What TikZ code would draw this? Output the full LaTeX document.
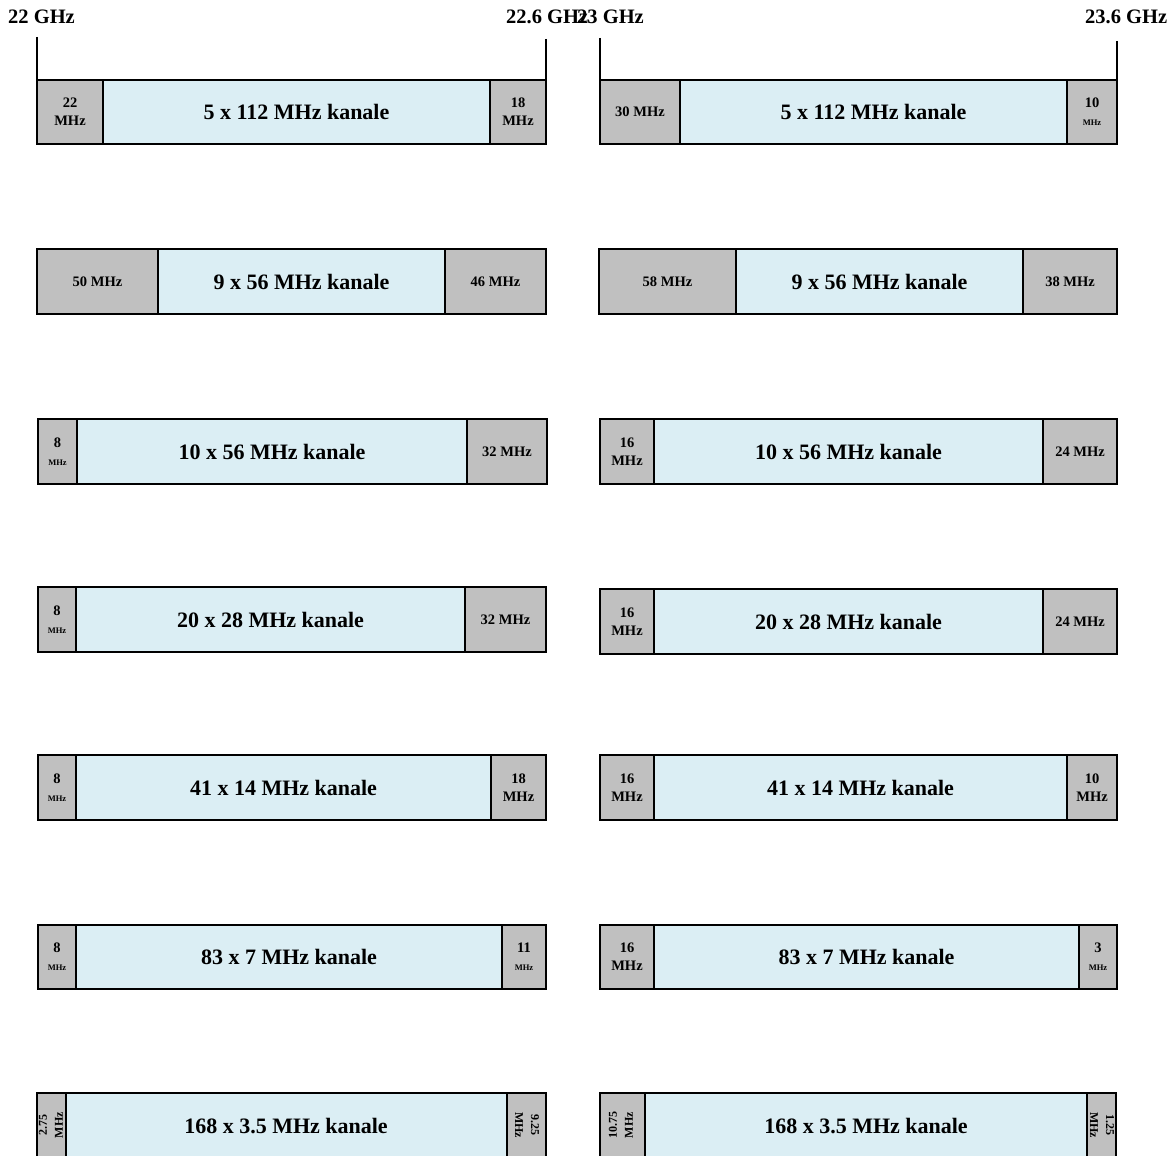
\documentclass[tikz,border=0pt]{standalone}
\usepackage{fontspec}
\setmainfont{Liberation Serif}
\definecolor{bandgray}{HTML}{C0C0C0}
\definecolor{chanblue}{HTML}{DBEEF4}
\newcommand\segnode[7]{%
  \node[#6, minimum width={(#3-#2)*1pt}, minimum height={(#5-#4)*1pt}] (#1) at ({(#2+#3)/2},{(#4+#5)/2}) {#7};}
\newcommand\smallmhz{{\fontsize{8.5}{9}\selectfont MHz}}
\begin{document}
\begin{tikzpicture}[x=1pt,y=-1pt,
  segbase/.style={draw=black, line width=1.5pt, inner sep=0pt, align=center},
  guard/.style={segbase, fill=bandgray, font=\bfseries\fontsize{14.5}{18}\selectfont},
  chan/.style={segbase, fill=chanblue, font=\bfseries\fontsize{22}{24}\selectfont},
  chanlab/.style={font=\bfseries\fontsize{22}{24}\selectfont},
  title/.style={font=\bfseries\fontsize{20.5}{24}\selectfont, inner sep=0pt, anchor=base west},
  rotlab/.style={font=\bfseries\fontsize{12}{16}\selectfont, inner sep=0pt, align=center},
  tick/.style={line width=1.3pt}]
\useasboundingbox (0,0) rectangle (1175,1156);
\clip (0,0) rectangle (1175,1156);
% titles
\node[title] (g1) at (8,24) {22 GHz};
\node[title] (g2) at (506,24) {22.6 GHz};
\node[title] (g3) at (577,24) {23 GHz};
\node[title] (g4) at (1085,24) {23.6 GHz};
% row 1
\segnode{r1a}{37}{103}{80}{144}{guard}{22\\MHz}
\segnode{r1b}{103}{490}{80}{144}{chan}{5 x 112 MHz kanale}
\segnode{r1c}{490}{546}{80}{144}{guard}{18\\MHz}
\segnode{r1d}{600}{680}{80}{144}{guard}{30 MHz}
\segnode{r1e}{680}{1067}{80}{144}{chan}{5 x 112 MHz kanale}
\segnode{r1f}{1067}{1117}{80}{144}{guard}{10\\\smallmhz}
% ticks
\coordinate (k1) at (37,37);
\coordinate (k2) at (546,39);
\coordinate (k3) at (600,38);
\coordinate (k4) at (1117,41);
\draw[tick] (k1) -- (k1 |- r1a.north);
\draw[tick] (k2) -- (k2 |- r1c.north);
\draw[tick] (k3) -- (k3 |- r1d.north);
\draw[tick] (k4) -- (k4 |- r1f.north);
% row 2
\segnode{r2a}{37}{158}{249}{314}{guard}{50 MHz}
\segnode{r2b}{158}{445}{249}{314}{chan}{9 x 56 MHz kanale}
\segnode{r2c}{445}{546}{249}{314}{guard}{46 MHz}
\segnode{r2d}{599}{736}{249}{314}{guard}{58 MHz}
\segnode{r2e}{736}{1023}{249}{314}{chan}{9 x 56 MHz kanale}
\segnode{r2f}{1023}{1117}{249}{314}{guard}{38 MHz}
% row 3
\segnode{r3a}{38}{77}{419}{484}{guard}{8\\\smallmhz}
\segnode{r3b}{77}{467}{419}{484}{chan}{10 x 56 MHz kanale}
\segnode{r3c}{467}{547}{419}{484}{guard}{32 MHz}
\segnode{r3d}{600}{654}{419}{484}{guard}{16\\MHz}
\segnode{r3e}{654}{1043}{419}{484}{chan}{10 x 56 MHz kanale}
\segnode{r3f}{1043}{1117}{419}{484}{guard}{24 MHz}
% row 4
\segnode{r4a}{38}{76}{587}{652}{guard}{8\\\smallmhz}
\segnode{r4b}{76}{465}{587}{652}{chan}{20 x 28 MHz kanale}
\segnode{r4c}{465}{546}{587}{652}{guard}{32 MHz}
\segnode{r4d}{600}{654}{589}{654}{guard}{16\\MHz}
\segnode{r4e}{654}{1043}{589}{654}{chan}{20 x 28 MHz kanale}
\segnode{r4f}{1043}{1117}{589}{654}{guard}{24 MHz}
% row 5
\segnode{r5a}{38}{76}{755}{820}{guard}{8\\\smallmhz}
\segnode{r5b}{76}{491}{755}{820}{chan}{41 x 14 MHz kanale}
\segnode{r5c}{491}{546}{755}{820}{guard}{18\\MHz}
\segnode{r5d}{600}{654}{755}{820}{guard}{16\\MHz}
\segnode{r5e}{654}{1067}{755}{820}{chan}{41 x 14 MHz kanale}
\segnode{r5f}{1067}{1117}{755}{820}{guard}{10\\MHz}
% row 6
\segnode{r6a}{38}{76}{925}{989}{guard}{8\\\smallmhz}
\segnode{r6b}{76}{502}{925}{989}{chan}{83 x 7 MHz kanale}
\segnode{r6c}{502}{546}{925}{989}{guard}{11\\\smallmhz}
\segnode{r6d}{600}{654}{925}{989}{guard}{16\\MHz}
\segnode{r6e}{654}{1079}{925}{989}{chan}{83 x 7 MHz kanale}
\segnode{r6f}{1079}{1117}{925}{989}{guard}{3\\\smallmhz}
% row 7
\segnode{r7a}{37}{66}{1093}{1160}{guard}{}
\segnode{r7b}{66}{507}{1093}{1160}{chan}{}
\segnode{r7c}{507}{546}{1093}{1160}{guard}{}
\segnode{r7d}{600}{645}{1093}{1160}{guard}{}
\segnode{r7e}{645}{1087}{1093}{1160}{chan}{}
\segnode{r7f}{1087}{1116}{1093}{1160}{guard}{}
\node[chanlab] (r7bl) at (286,1126) {168 x 3.5 MHz kanale};
\node[chanlab] (r7el) at (866,1126) {168 x 3.5 MHz kanale};
\node[rotlab, rotate=90] (r7al) at (51,1125) {2.75\\MHz};
\node[rotlab, rotate=-90] (r7cl) at (527,1125) {9.25\\MHz};
\node[rotlab, rotate=90] (r7dl) at (621,1125) {10.75\\MHz};
\node[rotlab, rotate=-90] (r7fl) at (1102,1125) {1.25\\MHz};
\end{tikzpicture}
\end{document}
